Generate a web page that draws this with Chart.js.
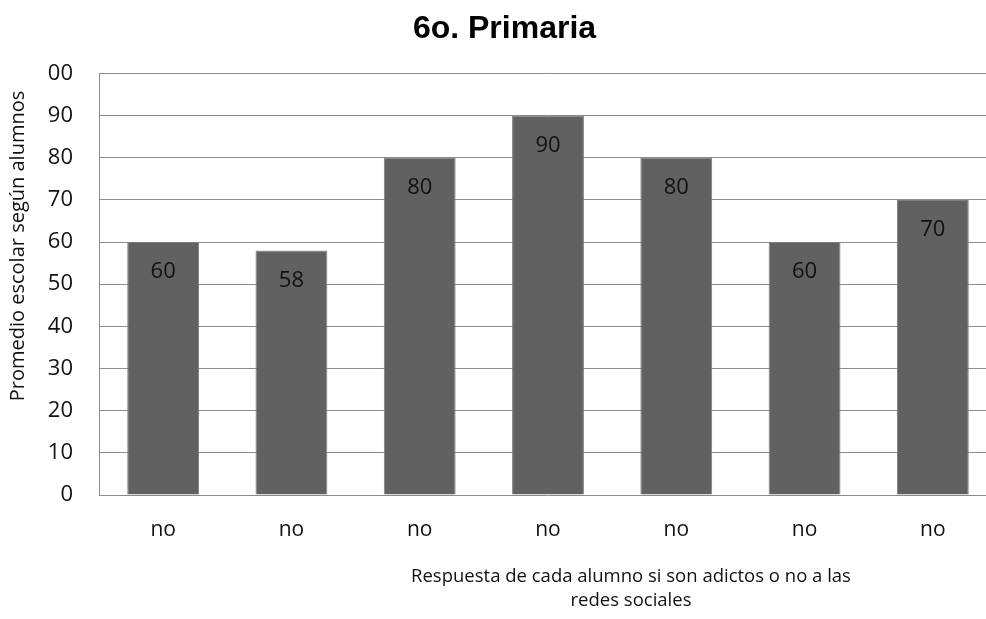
<!DOCTYPE html>
<html>
<head>
<meta charset="utf-8">
<script src="https://cdn.jsdelivr.net/npm/chart.js@4"></script>
<style>
  html, body { margin: 0; padding: 0; background: #fff; overflow: hidden; }
  #wrap { width: 1009px; height: 619px; }
</style>
</head>
<body>
<div id="wrap"><canvas id="chart" width="1009" height="619"></canvas></div>
<script>
// ── data ─────────────────────────────────────────────────────────────────────
var categories = ['no', 'no', 'no', 'no', 'no', 'no', 'no'];
var values = [60, 58, 80, 90, 80, 60, 70];
var yTickLabels = ['0', '10', '20', '30', '40', '50', '60', '70', '80', '90', '00'];

var titleText = '6o. Primaria';
var yTitle = 'Promedio escolar según alumnos';
var xTitleLines = ['Respuesta de cada alumno si son adictos o no a las', 'redes sociales'];

var FONT = "'Open Sans', sans-serif";

// value labels drawn inside each bar, a bit below its top
var barLabels = {
  id: 'barLabels',
  afterDatasetsDraw: function(chart) {
    var ctx = chart.ctx;
    var meta = chart.getDatasetMeta(0);
    ctx.save();
    ctx.font = '22px ' + FONT;
    ctx.fillStyle = '#111';
    ctx.textAlign = 'center';
    ctx.textBaseline = 'middle';
    meta.data.forEach(function(bar, i) {
      ctx.fillText(String(values[i]), bar.x, bar.y + 30);
    });
    ctx.restore();
  }
};

// axis titles, placed like the original (not centred on the axes)
var axisTitles = {
  id: 'axisTitles',
  afterDraw: function(chart) {
    var ctx = chart.ctx;
    ctx.save();
    ctx.fillStyle = '#111';
    ctx.textAlign = 'center';
    ctx.textBaseline = 'middle';
    ctx.font = '20px ' + FONT;
    ctx.translate(18, 246);
    ctx.rotate(-Math.PI / 2);
    ctx.fillText(yTitle, 0, 0);
    ctx.restore();

    ctx.save();
    ctx.fillStyle = '#111';
    ctx.textAlign = 'center';
    ctx.textBaseline = 'middle';
    ctx.font = '18.5px ' + FONT;
    ctx.fillText(xTitleLines[0], 631, 577);
    ctx.fillText(xTitleLines[1], 631, 601);
    ctx.restore();
  }
};

new Chart(document.getElementById('chart'), {
  type: 'bar',
  data: {
    labels: categories,
    datasets: [{
      data: values,
      backgroundColor: '#616161',
      borderColor: '#7d7d7d',
      borderWidth: 1,
      barPercentage: 0.56,
      categoryPercentage: 1.0
    }]
  },
  options: {
    responsive: false,
    animation: false,
    devicePixelRatio: 1,
    layout: { padding: { left: 12, right: 12, top: 0, bottom: 0 } },
    plugins: {
      legend: { display: false },
      tooltip: { enabled: false },
      title: {
        display: true,
        text: titleText,
        color: '#000',
        font: { family: "'Liberation Sans', Arial, sans-serif", size: 32, weight: 'bold', lineHeight: 1.2 },
        padding: { top: 10, bottom: 25 }
      }
    },
    scales: {
      x: {
        grid: { display: false, drawTicks: false },
        border: { display: false },
        ticks: {
          color: '#111',
          font: { family: FONT, size: 21 },
          padding: 22,
          maxRotation: 0
        },
        afterFit: function(scale) { scale.height = 124; }
      },
      y: {
        min: 0,
        max: 100,
        ticks: {
          stepSize: 10,
          color: '#111',
          font: { family: FONT, size: 22 },
          padding: 26,
          callback: function(val) { return yTickLabels[Math.round(val / 10)]; }
        },
        grid: { color: '#8c8c8c', lineWidth: 1, drawTicks: false },
        border: { display: true, color: '#8c8c8c', width: 1 },
        afterFit: function(scale) { scale.width = 87; }
      }
    }
  },
  plugins: [barLabels, axisTitles]
});
</script>
</body>
</html>
